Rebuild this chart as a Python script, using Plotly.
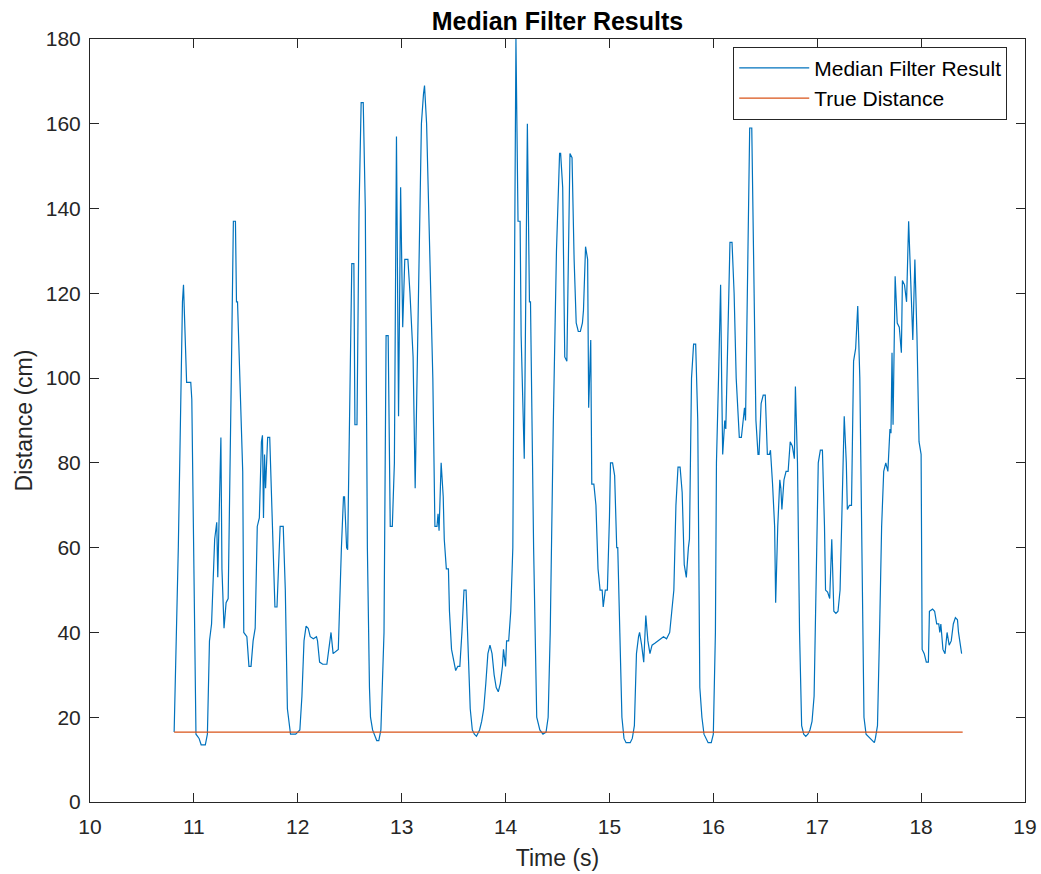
import plotly.graph_objects as go

time_s = [
    10.81, 10.85, 10.89, 10.90, 10.93, 10.97, 10.98, 11.02, 11.05, 11.07, 11.11, 11.13, 11.15, 11.17,
    11.20, 11.22, 11.23, 11.26, 11.27, 11.29, 11.31, 11.33, 11.36, 11.38, 11.40, 11.41, 11.42, 11.45,
    11.47, 11.48, 11.51, 11.53, 11.55, 11.57, 11.59, 11.61, 11.63, 11.65, 11.66, 11.67, 11.68, 11.69,
    11.71, 11.73, 11.75, 11.78, 11.80, 11.83, 11.86, 11.88, 11.90, 11.92, 11.93, 11.98, 12.02, 12.04,
    12.06, 12.08, 12.10, 12.12, 12.15, 12.18, 12.19, 12.21, 12.24, 12.28, 12.30, 12.32, 12.34, 12.37,
    12.39, 12.42, 12.44, 12.45, 12.47, 12.48, 12.50, 12.52, 12.54, 12.55, 12.57, 12.59, 12.61, 12.63,
    12.65, 12.67, 12.69, 12.70, 12.72, 12.74, 12.76, 12.78, 12.80, 12.83, 12.85, 12.87, 12.89, 12.91,
    12.93, 12.95, 12.96, 12.97, 12.99, 13.01, 13.03, 13.06, 13.08, 13.11, 13.13, 13.15, 13.17, 13.19,
    13.21, 13.22, 13.24, 13.27, 13.30, 13.32, 13.34, 13.35, 13.36, 13.38, 13.40, 13.41, 13.43, 13.45,
    13.46, 13.48, 13.50, 13.52, 13.54, 13.56, 13.58, 13.60, 13.62, 13.64, 13.66, 13.68, 13.70, 13.72,
    13.73, 13.75, 13.77, 13.79, 13.81, 13.83, 13.85, 13.87, 13.89, 13.91, 13.93, 13.95, 13.97, 13.98,
    13.99, 14.00, 14.01, 14.03, 14.05, 14.07, 14.08, 14.10, 14.12, 14.14, 14.15, 14.18, 14.21, 14.23,
    14.24, 14.27, 14.30, 14.33, 14.36, 14.39, 14.41, 14.43, 14.46, 14.49, 14.52, 14.53, 14.55, 14.57,
    14.59, 14.61, 14.62, 14.64, 14.66, 14.68, 14.70, 14.72, 14.74, 14.75, 14.77, 14.79, 14.80, 14.82,
    14.83, 14.85, 14.87, 14.89, 14.91, 14.93, 14.94, 14.96, 14.98, 15.00, 15.01, 15.03, 15.05, 15.07,
    15.08, 15.10, 15.12, 15.14, 15.16, 15.20, 15.22, 15.24, 15.26, 15.28, 15.29, 15.31, 15.33, 15.35,
    15.37, 15.39, 15.41, 15.44, 15.47, 15.50, 15.52, 15.55, 15.58, 15.60, 15.62, 15.64, 15.66, 15.68,
    15.70, 15.72, 15.74, 15.76, 15.77, 15.79, 15.81, 15.83, 15.85, 15.87, 15.89, 15.91, 15.93, 15.95,
    15.98, 16.00, 16.02, 16.03, 16.05, 16.07, 16.08, 16.09, 16.11, 16.12, 16.14, 16.16, 16.18, 16.20,
    16.22, 16.24, 16.25, 16.27, 16.29, 16.30, 16.31, 16.33, 16.35, 16.37, 16.39, 16.41, 16.43, 16.44,
    16.46, 16.48, 16.50, 16.52, 16.54, 16.55, 16.57, 16.59, 16.60, 16.62, 16.64, 16.65, 16.66, 16.68,
    16.70, 16.72, 16.74, 16.76, 16.78, 16.79, 16.81, 16.83, 16.85, 16.87, 16.89, 16.91, 16.93, 16.95,
    16.97, 16.99, 17.01, 17.03, 17.05, 17.07, 17.08, 17.10, 17.12, 17.14, 17.16, 17.18, 17.20, 17.22,
    17.24, 17.26, 17.28, 17.29, 17.31, 17.33, 17.35, 17.37, 17.39, 17.41, 17.43, 17.45, 17.47, 17.49,
    17.51, 17.53, 17.55, 17.56, 17.58, 17.60, 17.62, 17.64, 17.66, 17.68, 17.70, 17.71, 17.72, 17.73,
    17.75, 17.77, 17.79, 17.81, 17.82, 17.84, 17.86, 17.88, 17.90, 17.92, 17.94, 17.96, 17.98, 18.00,
    18.01, 18.03, 18.05, 18.07, 18.08, 18.11, 18.13, 18.15, 18.17, 18.18, 18.19, 18.21, 18.23, 18.25,
    18.27, 18.29, 18.31, 18.33, 18.35, 18.36, 18.39,
]

median_cm = [
    16.5, 60, 118, 122, 99, 99, 95, 16, 15, 13.5, 13.5, 16, 38, 42,
    62, 66, 53, 86, 55, 41, 47, 48, 100, 137, 137, 118, 118, 90,
    78, 40, 39, 32, 32, 38, 41, 65, 67, 85, 86.5, 67, 82, 74,
    86, 86, 70, 46, 46, 65, 65, 50, 22, 17, 16, 16, 17, 25,
    38, 41.5, 41, 39, 38.5, 39, 38, 33, 32.5, 32.5, 36, 40, 35, 35.5,
    36, 60, 72, 72, 60, 59.5, 90, 127, 127, 89, 89, 140, 165, 165,
    140, 60, 27, 20, 17, 15.5, 14.5, 14.5, 17, 40, 110, 110, 65, 65,
    80, 157, 120, 91, 145, 112, 128, 128, 120, 105, 74, 100, 130, 160,
    167, 169, 160, 130, 100, 65, 65, 68, 64, 80, 72, 62, 55, 55,
    45, 36, 33, 31, 32, 32, 40, 50, 50, 38, 22, 17, 16, 15.5,
    16, 17, 19, 22, 28, 35, 37, 35, 30, 27, 26, 28, 32, 36,
    34, 32, 38, 38, 45, 60, 100, 180, 137, 137, 110, 81, 160, 118,
    118, 60, 20, 17, 16, 16.5, 20, 40, 90, 130, 153, 153, 145, 105,
    104, 133, 153, 152, 128, 113, 111, 111, 113, 116, 131, 128, 93, 109,
    75, 75, 70, 55, 50, 50, 46, 50, 50, 67, 80, 80, 77, 60,
    60, 40, 20, 15, 14, 14, 15, 18, 35, 39, 40, 37, 33, 44,
    38, 35, 37, 37.5, 38, 38.5, 39, 38.5, 40, 45, 50, 70, 79, 79,
    73, 56, 53, 60, 62, 100, 108, 108, 90, 27, 20, 16, 15, 14,
    14, 16, 40, 80, 100, 122, 100, 82, 90, 88, 110, 132, 132, 120,
    100, 90, 86, 86, 90, 93, 90, 120, 159, 159, 120, 90, 82, 82,
    94, 96, 96, 82, 82, 83, 75, 65, 47, 65, 76, 74, 69, 76,
    78, 78, 85, 84, 81, 98, 80, 40, 18, 16, 15.5, 16, 17, 19,
    25, 50, 80, 83, 83, 65, 50, 49.5, 48, 62, 45, 44.5, 45, 50,
    70, 91, 80, 69, 70, 70, 104, 107, 117, 100, 60, 20, 16, 15.5,
    15, 14.5, 14, 15, 18, 40, 65, 78, 80, 78, 88, 87, 106, 89,
    124, 113, 112, 106, 123, 122, 118, 137, 124, 109, 128, 110, 85, 82,
    36, 35, 33, 33, 45, 45.5, 45, 42, 42, 40, 42, 36, 35, 40,
    37, 38, 42, 43.5, 43, 40, 35,
]

true_time_s = [10.81, 18.40]
true_cm = [16.5, 16.5]

x_ticks = [10, 11, 12, 13, 14, 15, 16, 17, 18, 19]
y_ticks = [0, 20, 40, 60, 80, 100, 120, 140, 160, 180]

FONT = "Liberation Sans, Arial, Helvetica"

fig = go.Figure()
fig.add_trace(go.Scatter(x=time_s, y=median_cm, mode="lines", name="Median Filter Result",
                         line=dict(color="#0072BD", width=1.2)))
fig.add_trace(go.Scatter(x=true_time_s, y=true_cm, mode="lines", name="True Distance",
                         line=dict(color="#D95319", width=1.2)))

axis_common = dict(showgrid=False, zeroline=False, showline=True, linecolor="#262626", linewidth=1,
                   mirror="ticks", ticks="inside", ticklen=9, tickcolor="#262626", automargin=False,
                   tickfont=dict(family=FONT, size=21, color="#262626"))

fig.update_layout(
    width=1041, height=874,
    margin=dict(l=90, r=16, t=39, b=72),
    paper_bgcolor="white", plot_bgcolor="white",
    title=dict(text="<b>Median Filter Results</b>", x=0.5, xref="paper", xanchor="center",
               y=0.976, yanchor="middle",
               font=dict(family=FONT, size=25, color="black")),
    xaxis=dict(range=[10, 19], tickvals=x_ticks, ticklabelstandoff=6,
               title=dict(text="Time (s)", font=dict(family=FONT, size=23, color="#262626"), standoff=12),
               **axis_common),
    yaxis=dict(range=[0, 180], tickvals=y_ticks, ticklabelstandoff=4,
               title=dict(text="Distance (cm)", font=dict(family=FONT, size=23, color="#262626"), standoff=6),
               **axis_common),
    legend=dict(x=0.981, y=0.99, xanchor="right", yanchor="top", bgcolor="white",
                bordercolor="#262626", borderwidth=1, itemwidth=70,
                font=dict(family=FONT, size=21, color="black"),
                tracegroupgap=0),
    showlegend=True,
)

fig.write_html("out.html")
